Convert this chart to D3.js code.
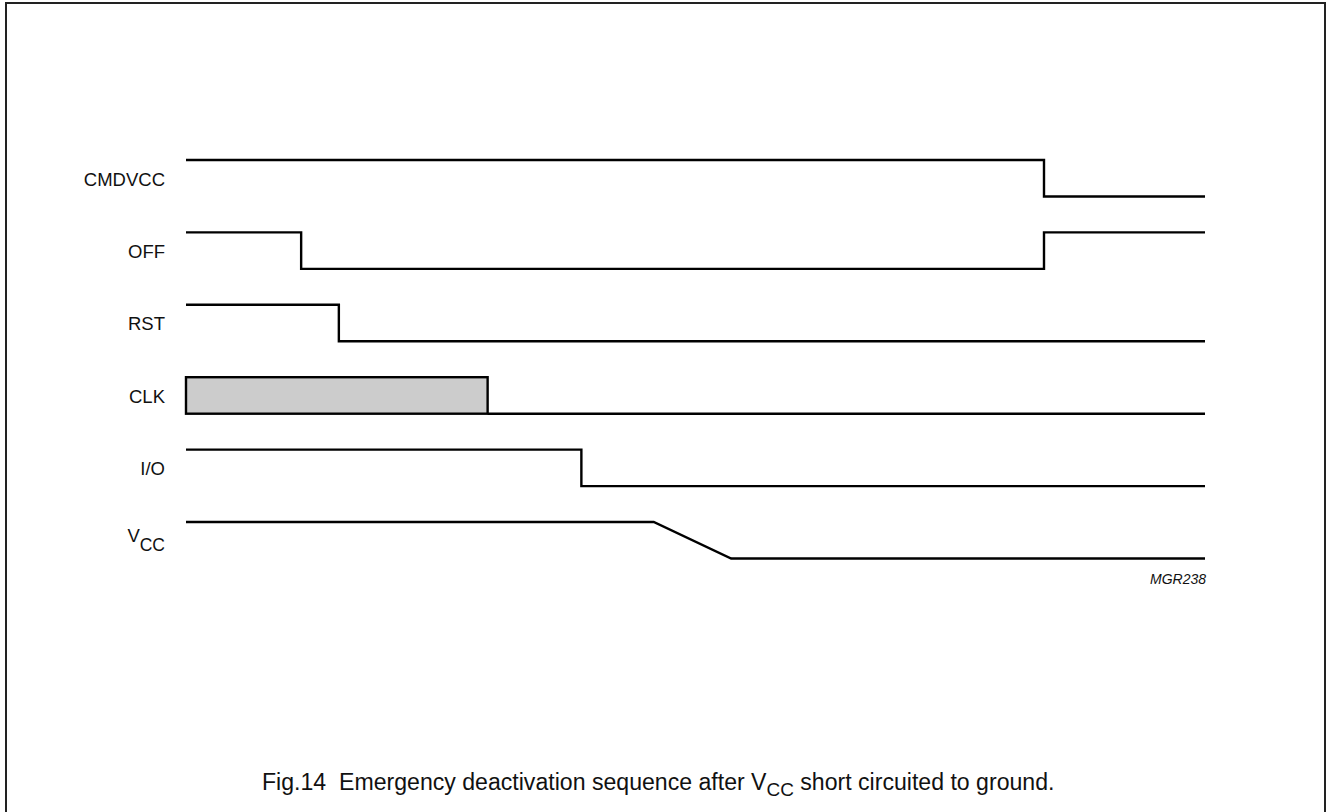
<!DOCTYPE html>
<html><head><meta charset="utf-8">
<script src="https://cdn.jsdelivr.net/npm/d3@7"></script>
<style>body{margin:0;background:#fff}svg{display:block}text{font-family:"Liberation Sans",Arial,sans-serif;fill:#111}</style>
</head><body>
<svg id="c" width="1327" height="812"></svg>
<script>
// Signal names (top to bottom)
const signals = ["CMDVCC", "OFF", "RST", "CLK", "I/O", "VCC"];
// Waveforms: [time, level] pairs, time in 0..100 units, level 1=high 0=low
const wfCMDVCC = [[0,1],[84.2,1],[84.2,0],[100,0]];
const wfOFF    = [[0,1],[11.3,1],[11.3,0],[84.2,0],[84.2,1],[100,1]];
const wfRST    = [[0,1],[15.0,1],[15.0,0],[100,0]];
const wfCLK    = [[29.6,0],[100,0]];
const clkActive = [0, 29.6];   // clock running window (shaded block)
const wfIO     = [[0,1],[38.8,1],[38.8,0],[100,0]];
const wfVCC    = [[0,1],[45.9,1],[53.5,0],[100,0]];
const waves = [wfCMDVCC, wfOFF, wfRST, wfCLK, wfIO, wfVCC];
const figId = "MGR238";
const caption = ["Fig.14\u00a0\u00a0Emergency deactivation sequence after V", "CC", " short circuited to ground."];

const svg = d3.select("#c");
// frame
svg.append("rect").attr("x",6).attr("y",3).attr("width",1319).attr("height",830)
  .attr("fill","none").attr("stroke","#222").attr("stroke-width",2);

const x = d3.scaleLinear().domain([0,100]).range([186,1205]);
const row = d3.scaleLinear().domain([0,5]).range([160,522]);
const lvl = d3.scaleLinear().domain([1,0]).range([0,36.5]);

const line = (i) => d3.line().x(d=>x(d[0])).y(d=>row(i)+lvl(d[1]));

signals.forEach((name,i)=>{
  if (name === "CLK") {
    svg.append("rect").attr("x",x(clkActive[0])).attr("y",row(i)+lvl(1))
      .attr("width",x(clkActive[1])-x(clkActive[0])).attr("height",lvl(0)-lvl(1))
      .attr("fill","#cccccc").attr("stroke","#000").attr("stroke-width",2.4);
  }
  svg.append("path").attr("d",line(i)(waves[i])).attr("fill","none")
    .attr("stroke","#000").attr("stroke-width",2.4).attr("stroke-linejoin","miter");
  const t = svg.append("text").attr("x",165).attr("text-anchor","end").attr("font-size",18.5);
  if (name === "VCC") {
    t.attr("y",row(i)+20);
    t.append("tspan").text("V");
    t.append("tspan").attr("dy",9).attr("font-size",17.5).text("CC");
  } else {
    t.attr("y",row(i)+25.5).text(name);
  }
});

svg.append("text").attr("x",1206).attr("y",584).attr("text-anchor","end")
  .attr("font-size",14).attr("font-style","italic").text(figId);

const baseFs = 18.5;
const cap = svg.append("text").attr("x",262).attr("y",790).attr("font-size",baseFs);
const s1 = cap.append("tspan").text(caption[0]);
const s2 = cap.append("tspan").attr("dy",5).attr("font-size",baseFs*0.82).text(caption[1]);
const s3 = cap.append("tspan").attr("dy",-5).text(caption[2]);
const w = cap.node().getBBox().width;
const fs = baseFs * 793 / w;
cap.attr("font-size", fs);
s2.attr("font-size", fs*0.82).attr("dy", fs*0.28);
s3.attr("dy", -fs*0.28);
</script>
</body></html>
